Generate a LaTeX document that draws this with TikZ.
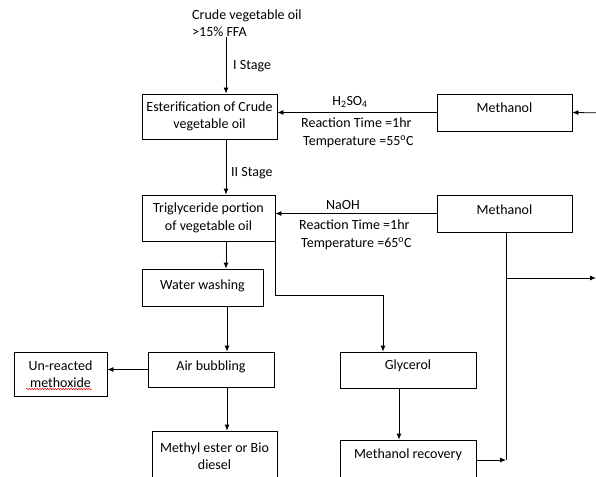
\documentclass[tikz,border=0pt]{standalone}
\usepackage{fontspec}
\setmainfont{Carlito}
\usetikzlibrary{arrows.meta,decorations.pathmorphing}
\begin{document}
\begin{tikzpicture}[x=1pt,y=-1pt,
  font=\fontsize{14}{17.5}\selectfont,
  box/.style={draw=black, line width=0.8pt, inner sep=0pt, align=center},
  onebox/.style={box, text height=10pt, text depth=#1},
  arr/.style={-{Latex[length=6pt,width=5pt]}, line width=0.8pt},
  ln/.style={line width=0.8pt},
  lbl/.style={inner sep=0pt, anchor=base west},
  lblc/.style={inner sep=0pt, anchor=base}]
\useasboundingbox (0,0) rectangle (596,476);
\clip (0,0) rectangle (596,476);

% texts
\node[lbl] (crude1) at (192,19.5) {Crude vegetable oil};
\node[lbl] (crude2) at (192,36.5) {>15\% FFA};
\node[lbl] (st1) at (233,69.5) {I Stage};
\node[lbl] (st2) at (231,176.5) {II Stage};
\node[lblc] (acid) at (350,105.5) {H\textsubscript{2}SO\textsubscript{4}};
\node[lbl] (rt1) at (301,127.5) {Reaction Time =1hr};
\node[lbl] (tp1) at (303,145.5) {Temperature =55\textsuperscript{o}C};
\node[lblc] (base) at (343,209.5) {NaOH};
\node[lbl] (rt2) at (299,229.5) {Reaction Time =1hr};
\node[lbl] (tp2) at (301,247.5) {Temperature =65\textsuperscript{o}C};

% boxes
\node[box, minimum width=135, minimum height=45] (est) at (209.5,116.5) {Esterification of Crude\\vegetable oil};
\node[onebox=9pt, minimum width=135, minimum height=37] (m1) at (504.5,112.5) {Methanol};
\node[box, minimum width=133, minimum height=46] (tri) at (208.5,218) {Triglyceride portion\\of vegetable oil};
\node[onebox=9pt, minimum width=135, minimum height=37] (m2) at (504.5,213.5) {Methanol};
\node[onebox=7pt, minimum width=121, minimum height=37] (ww) at (202.5,287.5) {Water washing};
\node[onebox=9pt, minimum width=126, minimum height=35] (air) at (211,369.5) {Air bubbling};
\node[box, minimum width=93, minimum height=44] (unr) at (60.5,374) {Un-reacted\\methoxide};
\node[box, minimum width=125, minimum height=50] (me) at (214.5,456) {Methyl ester or Bio\\diesel};
\node[onebox=11pt, minimum width=136, minimum height=36] (gly) at (408,370) {Glycerol};
\node[onebox=17pt, minimum width=136, minimum height=44] (rec) at (408,462) {Methanol recovery};

% spell-check underline
\draw[red, line width=0.5pt, decorate, decoration={snake, amplitude=0.7pt, segment length=2.6pt}] (26,389) -- (92,389);

% coordinates
\coordinate (s1) at (226,37);
\coordinate (in1) at (610,113);
\coordinate (v) at (506,278);
\coordinate (out2) at (596,278);
\coordinate (g1) at (383,295);
\coordinate (c2) at (227,300);

% connectors
\draw[arr] (s1) -- (s1 |- est.north);
\draw[arr] (est.south -| s1) -- (s1 |- tri.north);
\draw[arr] (in1) -- (m1.east);
\draw[arr] (m1.west) -- (m1.west -| est.east);
\draw[arr] (m2.west) -- (m2.west -| tri.east);
\draw[ln] (m2.south -| v) -- ([yshift=2pt]v |- rec.east);
\draw[arr] (v) -- (out2);
\draw[arr] ([yshift=2pt]rec.east) -- ([yshift=2pt]rec.east -| v);
\draw[arr] (tri.south -| s1) -- (s1 |- ww.north);
\draw[arr] (tri.south east) |- (g1) -- (g1 |- gly.north);
\draw[arr] (ww.south -| c2) -- (c2 |- air.north);
\draw[arr] (air.west) -- (air.west -| unr.east);
\draw[arr] (air.south -| c2) -- (c2 |- me.north);
\draw[arr] (gly.south -| 399,0) -- (399,0 |- rec.north);
\end{tikzpicture}
\end{document}
